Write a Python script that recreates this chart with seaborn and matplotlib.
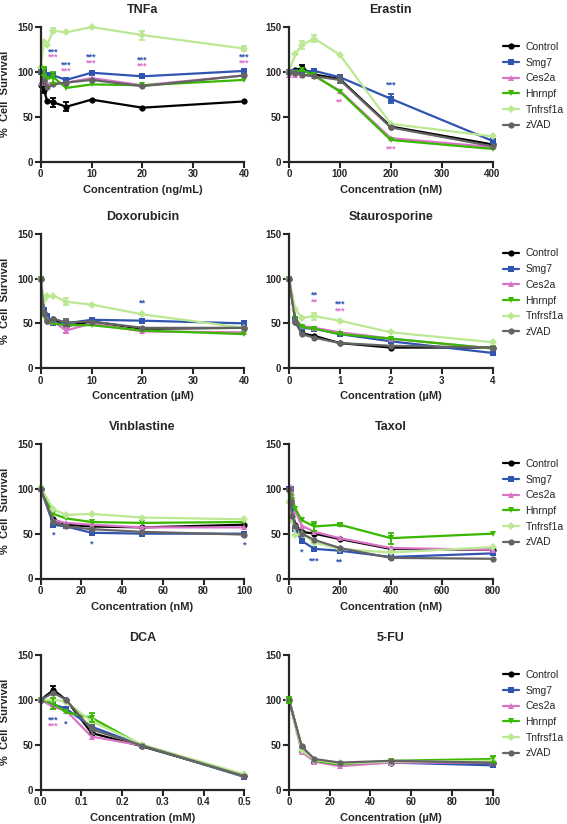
import numpy as np
import pandas as pd
import matplotlib
matplotlib.use('Agg')
import matplotlib.pyplot as plt
import seaborn as sns

# groups, colours, markers
groups = ['Control', 'Smg7', 'Ces2a', 'Hnrnpf', 'Tnfrsf1a', 'zVAD']
colors = ['#000000', '#2f55b0', '#d874c8', '#38b800', '#bce893', '#646464']
markers = ['o', 's', '^', 'v', 'D', 'o']

# TNFa (ng/mL)
tnfa_x = [0, 0.625, 1.25, 2.5, 5, 10, 20, 40]
tnfa = {
    'Control': [85, 80, 68, 66, 61, 69, 60, 67],
    'Smg7': [100, 103, 97, 96, 91, 99, 95, 101],
    'Ces2a': [88, 92, 87, 87, 88, 93, 85, 96],
    'Hnrnpf': [98, 101, 92, 94, 82, 86, 85, 91],
    'Tnfrsf1a': [105, 133, 130, 146, 144, 150, 141, 126],
    'zVAD': [100, 90, 83, 86, 88, 91, 84, 96],
}
tnfa_err = [('Control', 2.5, 5), ('Control', 5, 5), ('Control', 0.625, 4),
            ('Hnrnpf', 2.5, 6), ('Hnrnpf', 0.625, 4), ('Tnfrsf1a', 20, 5),
            ('Tnfrsf1a', 2.5, 3), ('Tnfrsf1a', 40, 3)]
tnfa_stars = [(2.5, 122, '***', 'Smg7'), (2.5, 117, '***', 'Ces2a'),
              (5, 108, '***', 'Smg7'), (5, 101, '***', 'Ces2a'),
              (10, 117, '***', 'Smg7'), (10, 110, '***', 'Ces2a'),
              (20, 113, '***', 'Smg7'), (20, 106, '***', 'Ces2a'),
              (40, 116, '***', 'Smg7'), (40, 110, '***', 'Ces2a')]

# Erastin (nM)
erastin_x = [0, 12.5, 25, 50, 100, 200, 400]
erastin = {
    'Control': [100, 102, 104, 97, 92, 39, 19],
    'Smg7': [100, 100, 100, 101, 94, 70, 23],
    'Ces2a': [97, 97, 97, 95, 79, 26, 16],
    'Hnrnpf': [97, 99, 102, 96, 78, 24, 14],
    'Tnfrsf1a': [100, 120, 130, 137, 119, 42, 28],
    'zVAD': [100, 99, 97, 95, 91, 38, 17],
}
erastin_err = [('Control', 25, 4), ('Smg7', 200, 5), ('Tnfrsf1a', 25, 4),
               ('Tnfrsf1a', 50, 4), ('zVAD', 100, 4)]
erastin_stars = [(200, 85, '***', 'Smg7'), (100, 66, '**', 'Ces2a'),
                 (200, 14, '***', 'Ces2a')]

# Doxorubicin (uM)
doxo_x = [0, 0.625, 1.25, 2.5, 5, 10, 20, 40]
doxo = {
    'Control': [100, 62, 53, 55, 47, 52, 44, 45],
    'Smg7': [100, 65, 58, 50, 50, 54, 53, 50],
    'Ces2a': [100, 60, 55, 52, 42, 50, 41, 40],
    'Hnrnpf': [100, 58, 52, 50, 48, 48, 42, 38],
    'Tnfrsf1a': [100, 76, 80, 81, 74, 71, 60, 45],
    'zVAD': [100, 62, 53, 55, 51, 52, 45, 45],
}
doxo_err = [('Tnfrsf1a', 5, 4), ('Ces2a', 5, 3), ('zVAD', 5, 4)]
doxo_stars = [(20, 73, '**', 'Smg7')]

# Staurosporine (uM)
stauro_x = [0, 0.125, 0.25, 0.5, 1, 2, 4]
stauro = {
    'Control': [100, 52, 39, 36, 28, 23, 23],
    'Smg7': [100, 55, 45, 44, 38, 30, 17],
    'Ces2a': [100, 55, 47, 45, 40, 33, 22],
    'Hnrnpf': [100, 55, 46, 44, 38, 33, 22],
    'Tnfrsf1a': [100, 66, 56, 58, 53, 40, 29],
    'zVAD': [100, 52, 38, 34, 28, 25, 23],
}
stauro_err = [('Tnfrsf1a', 0.5, 4)]
stauro_stars = [(0.5, 82, '**', 'Smg7'), (0.5, 74, '**', 'Ces2a'),
                (1, 71, '***', 'Smg7'), (1, 64, '***', 'Ces2a')]

# Vinblastine (nM)
vinb_x = [0, 6.25, 12.5, 25, 50, 100]
vinb = {
    'Control': [100, 66, 60, 58, 57, 60],
    'Smg7': [100, 60, 58, 51, 50, 50],
    'Ces2a': [100, 65, 62, 60, 57, 57],
    'Hnrnpf': [100, 72, 67, 63, 62, 63],
    'Tnfrsf1a': [102, 77, 71, 72, 68, 66],
    'zVAD': [100, 63, 58, 55, 52, 49],
}
vinb_err = []
vinb_stars = [(6.25, 49, '*', 'Smg7'), (25, 38, '*', 'Smg7'), (100, 37, '*', 'Smg7')]

# Taxol (nM)
taxol_x = [0, 6.25, 12.5, 25, 50, 100, 200, 400, 800]
taxol = {
    'Control': [100, 88, 75, 60, 52, 50, 44, 33, 32],
    'Smg7': [100, 100, 78, 55, 42, 33, 31, 24, 28],
    'Ces2a': [100, 102, 95, 75, 59, 52, 45, 34, 32],
    'Hnrnpf': [95, 92, 88, 78, 65, 58, 60, 45, 50],
    'Tnfrsf1a': [85, 65, 68, 48, 50, 40, 33, 29, 35],
    'zVAD': [100, 85, 70, 58, 50, 43, 34, 23, 22],
}
taxol_err = [('Hnrnpf', 100, 5), ('Hnrnpf', 400, 6), ('Hnrnpf', 200, 2)]
taxol_stars = [(50, 29, '*', 'Smg7'), (100, 20, '***', 'Smg7'), (200, 18, '**', 'Smg7')]

# DCA (mM)
dca_x = [0, 0.03125, 0.0625, 0.125, 0.25, 0.5]
dca = {
    'Control': [100, 111, 100, 63, 48, 15],
    'Smg7': [100, 95, 90, 70, 49, 14],
    'Ces2a': [100, 92, 88, 59, 49, 15],
    'Hnrnpf': [100, 96, 86, 80, 49, 15],
    'Tnfrsf1a': [100, 100, 98, 76, 50, 17],
    'zVAD': [100, 108, 100, 67, 49, 15],
}
dca_err = [('Control', 0.03125, 4), ('Hnrnpf', 0.03125, 6), ('Hnrnpf', 0.125, 5),
           ('zVAD', 0.125, 5)]
dca_stars = [(0.03125, 78, '***', 'Smg7'), (0.03125, 71, '***', 'Ces2a'),
             (0.0625, 73, '*', 'Smg7')]

# 5-FU (uM)
fu_x = [0, 6.25, 12.5, 25, 50, 100]
fu = {
    'Control': [100, 47, 33, 29, 30, 30],
    'Smg7': [100, 44, 32, 28, 30, 27],
    'Ces2a': [100, 42, 31, 26, 30, 30],
    'Hnrnpf': [100, 47, 32, 28, 32, 34],
    'Tnfrsf1a': [100, 44, 33, 29, 31, 32],
    'zVAD': [100, 48, 34, 30, 32, 30],
}
fu_err = [('Hnrnpf', 0, 3), ('Hnrnpf', 100, 3)]
fu_stars = []

panels = [
    ('TNFa', tnfa_x, tnfa, tnfa_err, tnfa_stars, 'Concentration (ng/mL)', [0, 10, 20, 30, 40], None),
    ('Erastin', erastin_x, erastin, erastin_err, erastin_stars, 'Concentration (nM)', [0, 100, 200, 300, 400], None),
    ('Doxorubicin', doxo_x, doxo, doxo_err, doxo_stars, 'Concentration (µM)', [0, 10, 20, 30, 40], None),
    ('Staurosporine', stauro_x, stauro, stauro_err, stauro_stars, 'Concentration (µM)', [0, 1, 2, 3, 4], None),
    ('Vinblastine', vinb_x, vinb, vinb_err, vinb_stars, 'Concentration (nM)', [0, 20, 40, 60, 80, 100], None),
    ('Taxol', taxol_x, taxol, taxol_err, taxol_stars, 'Concentration (nM)', [0, 200, 400, 600, 800], None),
    ('DCA', dca_x, dca, dca_err, dca_stars, 'Concentration (mM)', [0, 0.1, 0.2, 0.3, 0.4, 0.5], '%.1f'),
    ('5-FU', fu_x, fu, fu_err, fu_stars, 'Concentration (µM)', [0, 20, 40, 60, 80, 100], None),
]

sns.set_style('ticks')
plt.rcParams['font.family'] = ['Liberation Sans', 'DejaVu Sans']
plt.rcParams['font.weight'] = 'bold'

fig = plt.figure(figsize=(5.67, 8.24), dpi=100)

W, H = 567, 824
lefts = [40.7, 289]
tops = [27, 233.7, 444, 655]
aw, ah = 203.5, 134.5

for i, (title, xs, data, errs, stars, xlabel, xticks, fmt) in enumerate(panels):
    row, col = divmod(i, 2)
    ax = fig.add_axes([lefts[col] / W, 1 - (tops[row] + ah) / H, aw / W, ah / H])
    df = pd.DataFrame([(x, g, v) for g in groups for x, v in zip(xs, data[g])],
                      columns=['conc', 'group', 'surv'])
    # error bars (SEM) where visible in the figure
    for g, x, e in errs:
        y = data[g][xs.index(x)]
        ax.errorbar([x], [y], yerr=[e], fmt='none', ecolor=colors[groups.index(g)],
                    elinewidth=1.3, capsize=2.5, capthick=1.3, clip_on=False,
                    zorder=groups.index(g) + 1)
    sns.lineplot(data=df, x='conc', y='surv', hue='group', style='group',
                 hue_order=groups, style_order=groups, palette=colors,
                 markers=markers, dashes=False, markersize=4.5, linewidth=1.6,
                 markeredgewidth=0, errorbar=None, ax=ax, legend=(col == 1))
    for ln in ax.lines:
        ln.set_clip_on(False)
    for x, y, s, g in stars:
        ax.text(x, y, s, color=colors[groups.index(g)], ha='center', va='center',
                fontsize=6.5, fontweight='bold')
    ax.set_xlim(0, xticks[-1])
    ax.set_ylim(0, 150)
    ax.set_xticks(xticks)
    if fmt:
        ax.set_xticklabels([fmt % t for t in xticks])
    ax.set_yticks([0, 50, 100, 150])
    ax.set_title(title, fontsize=9, fontweight='bold', pad=10)
    ax.set_xlabel(xlabel, fontsize=8, fontweight='bold', labelpad=4)
    ax.set_ylabel('%  Cell  Survival' if col == 0 else '', fontsize=8, fontweight='bold', labelpad=5)
    sns.despine(ax=ax)
    for sp in ['left', 'bottom']:
        ax.spines[sp].set_linewidth(1.6)
    ax.tick_params(width=1.5, length=4, labelsize=7, pad=1.5)
    if col == 1:
        leg = ax.get_legend()
        handles = leg.legend_handles
        labels = [t.get_text() for t in leg.get_texts()]
        ax.legend(handles, labels, loc='upper left', bbox_to_anchor=(1.05, 0.89),
                  frameon=False, prop={'size': 7.5, 'weight': 'normal'},
                  handlelength=1.6, handletextpad=0.6, labelspacing=0.55,
                  borderpad=0, borderaxespad=0)

fig.savefig('out.png', dpi=100)
